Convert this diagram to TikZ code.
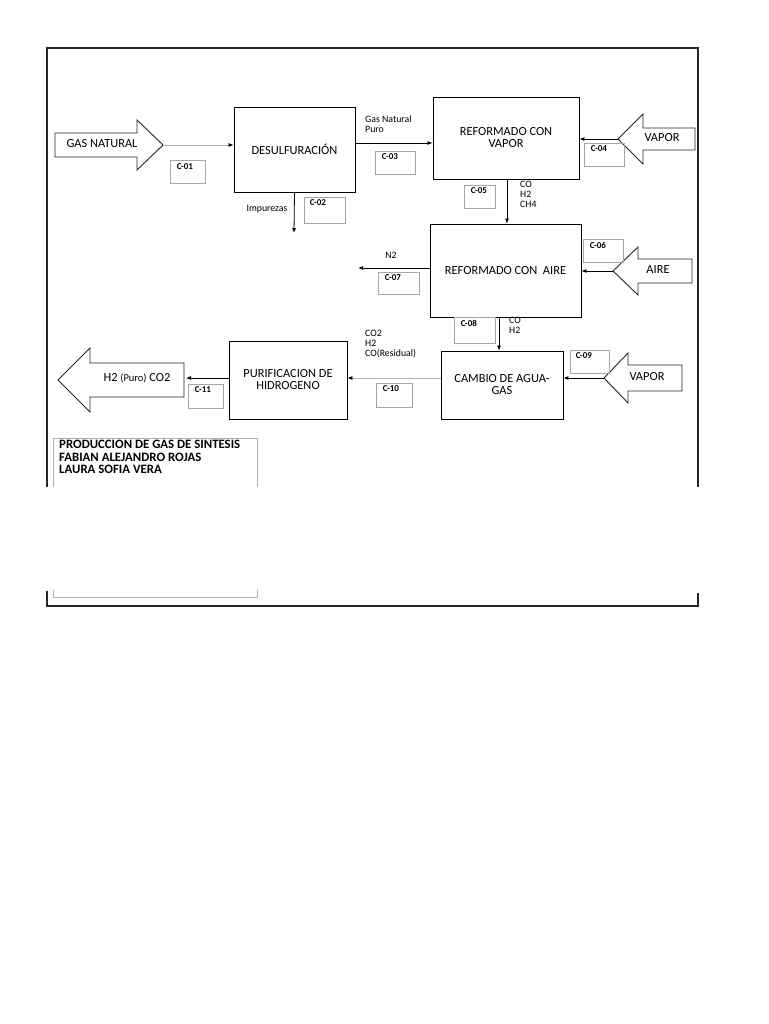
\documentclass[tikz,border=0pt]{standalone}
\usepackage{fontspec}
\setmainfont{Carlito}
\usetikzlibrary{arrows.meta}
\begin{document}
\begin{tikzpicture}[x=1pt,y=-1pt,
  proc/.style={draw=black, line width=0.9pt, fill=white, align=center, font=\fontsize{12.4}{12}\selectfont, inner sep=0pt},
  bigarrow/.style={draw=black!85, line width=0.9pt, fill=white, line join=miter},
  bigtext/.style={font=\fontsize{12.4}{12}\selectfont, inner sep=0pt},
  flow/.style={draw=black, line width=0.8pt, -{Latex[length=5pt,width=4pt]}},
  flowgray/.style={draw=black!30, line width=0.8pt, -{Latex[length=5pt,width=4pt,fill=black,color=black]}},
  cbox/.style={draw=black!35, line width=0.6pt, inner sep=0pt},
  ctext/.style={font=\fontsize{9}{10}\selectfont\bfseries, inner sep=0pt, anchor=north west},
  small/.style={font=\fontsize{9.8}{10}\selectfont, inner sep=0pt, align=left, anchor=north west},
  frame/.style={draw=black!85, line width=1.6pt},
  tframe/.style={draw=black!30, line width=0.7pt},
]
\useasboundingbox (0,0) rectangle (768,1024);
\fill[white] (0,0) rectangle (768,1024);

% outer frame (with gap)
\draw[frame] (47,487) -- (47,48) -- (698,48) -- (698,487);
\draw[frame] (47,591) -- (47,606) -- (698,606) -- (698,593);

% title box
\draw[tframe] (53,487) -- (53,438) -- (257,438) -- (257,487);
\draw[tframe] (53,590) -- (53,597) -- (257,597) -- (257,590);
\node[anchor=north west, inner sep=0pt, align=left, font=\fontsize{12.8}{12.5}\selectfont\bfseries] (title) at (59,440)
  {PRODUCCION DE GAS DE SINTESIS\\FABIAN ALEJANDRO ROJAS\\LAURA SOFIA VERA};

% process boxes
\node[proc, minimum width=121, minimum height=85] (desulf) at (294.5,149.5) {DESULFURACIÓN};
\node[proc, minimum width=146, minimum height=82] (refvap) at (506,138) {REFORMADO CON\\VAPOR};
\node[proc, minimum width=151, minimum height=93] (refaire) at (505.5,270.5) {REFORMADO CON\ \ AIRE};
\node[proc, minimum width=122, minimum height=68] (cambio) at (502,385) {CAMBIO DE AGUA-\\GAS};
\node[proc, minimum width=118, minimum height=78] (purif) at (288,380) {PURIFICACION DE\\HIDROGENO};

% big arrows
\draw[bigarrow] (55,133) -- (137,133) -- (137,120) -- (163,145) -- (137,170) -- (137,157) -- (55,157) -- cycle;
\coordinate (gnTip) at (163,145);
\node[bigtext] (gn) at (102,144) {GAS NATURAL};

\draw[bigarrow] (695,128) -- (643,128) -- (643,114) -- (618,139) -- (643,164) -- (643,150) -- (695,150) -- cycle;
\coordinate (vapTip) at (618,139);
\node[bigtext] (vap1) at (662,138) {VAPOR};

\draw[bigarrow] (692,259) -- (638,259) -- (638,247) -- (613,271) -- (638,295) -- (638,283) -- (692,283) -- cycle;
\coordinate (aireTip) at (613,271);
\node[bigtext] (aire) at (658,270) {AIRE};

\draw[bigarrow] (682,365) -- (628,365) -- (628,353) -- (604,378) -- (628,403) -- (628,391) -- (682,391) -- cycle;
\coordinate (vap2Tip) at (604,378);
\node[bigtext] (vap2) at (647,377) {VAPOR};

\draw[bigarrow] (184,363) -- (90,363) -- (90,348) -- (58,380) -- (90,412) -- (90,397) -- (184,397) -- cycle;
\coordinate (h2End) at (186,378);
\node[bigtext] (h2) at (137,378) {H2 {\fontsize{10.5}{11}\selectfont(Puro)} CO2};

% free ends
\coordinate (impEnd) at (294,233);
\coordinate (n2End) at (358,268);

% connectors
\draw[flowgray] (gnTip) -- (gnTip -| desulf.west);
\draw[flow] (desulf.south) -- (impEnd);
\draw[flow] (desulf.east |- 0,143) -- (refvap.west |- 0,143);
\draw[flow] (vapTip) -- (vapTip -| refvap.east);
\draw[flow] (refvap.south -| 507,0) -- (refaire.north -| 507,0);
\draw[flow] (refaire.west |- 0,268) -- (n2End);
\draw[flow] (aireTip) -- (aireTip -| refaire.east);
\draw[flow] (refaire.south -| 499,0) -- (cambio.north -| 499,0);
\draw[flow] (vap2Tip) -- (vap2Tip -| cambio.east);
\draw[flowgray] (cambio.west |- 0,378) -- (purif.east |- 0,378);
\draw[flow] (purif.west |- h2End) -- (h2End);

% stream texts
\node[small] (t03) at (365,115) {Gas Natural\\Puro};
\node[small, anchor=center] (t02) at (267,209) {Impurezas};
\node[small] (t05) at (520,181) {CO\\H2\\CH4};
\node[small, anchor=center] (t07) at (391,255) {N2};
\node[small] (t08) at (509,317) {CO\\H2};
\node[small] (t10) at (365,330) {CO2\\H2\\CO(Residual)};

% stream label boxes
\node[cbox, minimum width=35, minimum height=23] (c01) at (187.5,171.5) {};
\node[ctext] at ([shift={(7,4)}]c01.north west) {C-01};
\node[cbox, minimum width=41, minimum height=26] (c02) at (324.5,210) {};
\node[ctext] at ([shift={(6,3)}]c02.north west) {C-02};
\node[cbox, minimum width=40, minimum height=23] (c03) at (395,162.5) {};
\node[ctext] at ([shift={(7,3)}]c03.north west) {C-03};
\node[cbox, minimum width=40, minimum height=23] (c04) at (604,154.5) {};
\node[ctext] at ([shift={(7,3)}]c04.north west) {C-04};
\node[cbox, minimum width=31, minimum height=23] (c05) at (479.5,196.5) {};
\node[ctext] at ([shift={(7,3)}]c05.north west) {C-05};
\node[cbox, minimum width=40, minimum height=23] (c06) at (603,250.5) {};
\node[ctext] at ([shift={(7,3)}]c06.north west) {C-06};
\node[cbox, minimum width=41, minimum height=22] (c07) at (398.5,283) {};
\node[ctext] at ([shift={(7,3)}]c07.north west) {C-07};
\node[cbox, minimum width=41, minimum height=26] (c08) at (474.5,330) {};
\node[ctext] at ([shift={(7,3)}]c08.north west) {C-08};
\node[cbox, minimum width=39, minimum height=23] (c09) at (589.5,361.5) {};
\node[ctext] at ([shift={(6,3)}]c09.north west) {C-09};
\node[cbox, minimum width=36, minimum height=24] (c10) at (394,395) {};
\node[ctext] at ([shift={(7,3)}]c10.north west) {C-10};
\node[cbox, minimum width=35, minimum height=24] (c11) at (205.5,396) {};
\node[ctext] at ([shift={(7,3)}]c11.north west) {C-11};
\end{tikzpicture}
\end{document}
